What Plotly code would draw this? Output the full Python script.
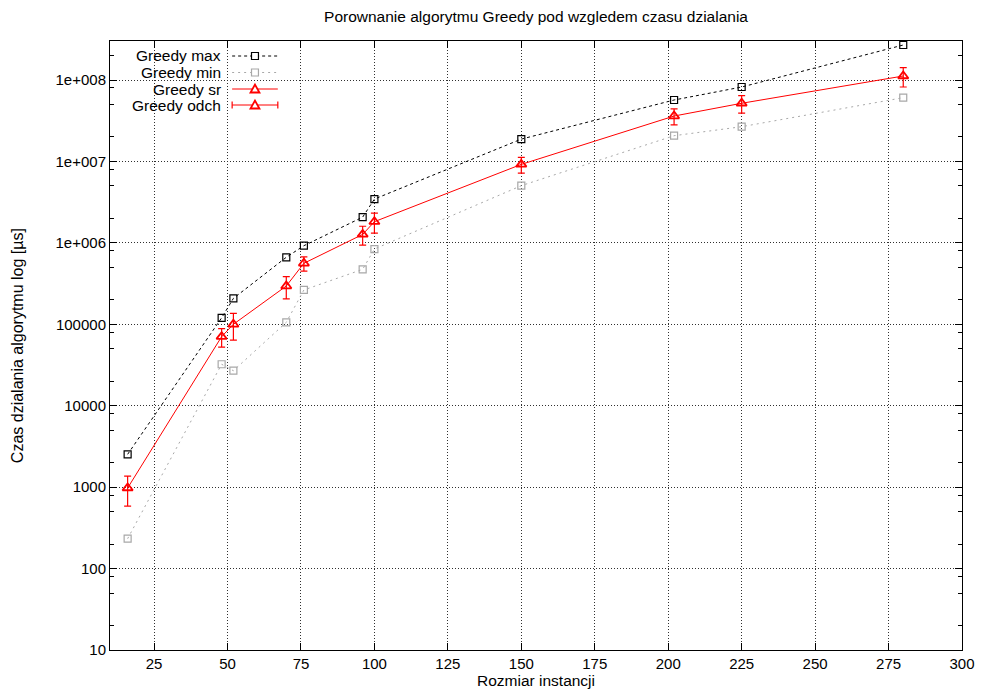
import plotly.graph_objects as go

# ---------------- data ----------------
sizes = [16, 48, 52, 70, 76, 96, 100, 150, 202, 225, 280]
greedy_max = [2530, 120000, 208000, 665000, 923000, 2.07e6, 3.45e6, 1.88e7, 5.68e7, 8.2e7, 2.69e8]
greedy_min = [233, 32300, 26900, 105700, 264000, 473000, 840000, 5.04e6, 2.07e7, 2.67e7, 6.07e7]
greedy_sr = [976, 70500, 100000, 295000, 561000, 1.27e6, 1.82e6, 9.2e6, 3.61e7, 5.18e7, 1.12e8]
greedy_odch = [390, 18000, 36000, 90000, 112000, 330000, 500000, 2.0e6, 8.0e6, 1.25e7, 3.0e7]

x_ticks = [25, 50, 75, 100, 125, 150, 175, 200, 225, 250, 275, 300]
y_ticks = [10, 100, 1000, 10000, 100000, 1e6, 1e7, 1e8]
y_ticktext = ["10", "100", "1000", "10000", "100000", "1e+006", "1e+007", "1e+008"]

legend_names = ["Greedy max", "Greedy min", "Greedy sr", "Greedy odch"]

# ---------------- style ----------------
FONT = "Liberation Sans, Arial, sans-serif"
FS = 15
FS_T = 15.5
W, H = 987, 691
L, R, T, B = 110, 19, 41, 41
PW, PH = W - L - R, H - T - B
BLACK = "#000000"
GRAY = "#a8a8a8"
RED = "#ff0000"

minor_vals = []
for e in range(1, 9):
    for m in (2, 5, 8):
        minor_vals.append(m * 10 ** e)

fig = go.Figure()

fig.add_trace(go.Scatter(
    x=sizes, y=greedy_max, mode="lines+markers", name=legend_names[0],
    line=dict(color=BLACK, width=1, dash="3px,3px"),
    marker=dict(symbol="square-open", size=7, color=BLACK, line=dict(width=1.2)),
    showlegend=False))
fig.add_trace(go.Scatter(
    x=sizes, y=greedy_min, mode="lines+markers", name=legend_names[1],
    line=dict(color=GRAY, width=1, dash="2px,4px"),
    marker=dict(symbol="square-open", size=7, color=GRAY, line=dict(width=1.2)),
    showlegend=False))
fig.add_trace(go.Scatter(
    x=sizes, y=greedy_sr, mode="lines+markers", name=legend_names[2],
    line=dict(color=RED, width=1),
    marker=dict(symbol="triangle-up-open", size=9, color=RED, line=dict(width=1.8)),
    error_y=dict(type="data", array=greedy_odch, symmetric=True, color=RED,
                 thickness=1.2, width=3.5),
    showlegend=False))

# ---------------- custom gnuplot-style key (layout decorations) ----------------
def px_x(px):
    return (px - L) / PW

def px_y(py):
    return (H - B - py) / PH

shapes = []
annotations = []

# opaque key box hiding the grid behind it
shapes.append(dict(type="rect", xref="paper", yref="paper", layer="between",
                   x0=px_x(111), x1=px_x(287), y0=px_y(113), y1=px_y(42),
                   fillcolor="white", line=dict(width=0)))

key_rows = [56, 72.5, 89, 105]
key_x0, key_x1, key_xc, text_right = 233, 279, 256, 224
key_styles = [
    dict(color=BLACK, dash="3px,3px", sym="square"),
    dict(color=GRAY, dash="2px,4px", sym="square"),
    dict(color=RED, dash="solid", sym="triangle"),
    dict(color=RED, dash="solid", sym="triangle", caps=True),
]
for name, ry, st in zip(legend_names, key_rows, key_styles):
    annotations.append(dict(text=name, xref="paper", yref="paper",
                            x=px_x(text_right), y=px_y(ry), xanchor="right",
                            yanchor="middle", showarrow=False,
                            font=dict(family=FONT, size=FS_T, color="black")))
    shapes.append(dict(type="line", xref="paper", yref="paper", layer="above",
                       x0=px_x(key_x0), x1=px_x(key_x1), y0=px_y(ry), y1=px_y(ry),
                       line=dict(color=st["color"], width=1, dash=st["dash"])))
    if st["sym"] == "square":
        shapes.append(dict(type="rect", xref="paper", yref="paper", layer="above",
                           x0=px_x(key_xc - 3.5), x1=px_x(key_xc + 3.5),
                           y0=px_y(ry + 3.5), y1=px_y(ry - 3.5),
                           fillcolor="white", line=dict(color=st["color"], width=1.2)))
    else:
        xa, xb, xc = px_x(key_xc - 4.5), px_x(key_xc + 4.5), px_x(key_xc)
        ya, yb = px_y(ry + 3.5), px_y(ry - 4.5)
        shapes.append(dict(type="path", xref="paper", yref="paper", layer="above",
                           path=f"M {xa} {ya} L {xb} {ya} L {xc} {yb} Z",
                           fillcolor="white", line=dict(color=st["color"], width=1.8)))
    if st.get("caps"):
        for cx in (key_x0, key_x1):
            shapes.append(dict(type="line", xref="paper", yref="paper", layer="above",
                               x0=px_x(cx), x1=px_x(cx), y0=px_y(ry - 3.5), y1=px_y(ry + 3.5),
                               line=dict(color=st["color"], width=1.2)))

# axis titles
annotations.append(dict(text="Rozmiar instancji", xref="paper", yref="paper",
                        x=0.5, y=px_y(680), xanchor="center", yanchor="middle",
                        showarrow=False, font=dict(family=FONT, size=FS_T, color="black")))
annotations.append(dict(text="Czas dzialania algorytmu log [µs]", xref="paper", yref="paper",
                        x=px_x(17), y=0.5, xanchor="center", yanchor="middle", textangle=-90,
                        showarrow=False, font=dict(family=FONT, size=FS_T + 0.5, color="black")))

axis_common = dict(
    showline=True, linecolor="black", linewidth=1, mirror="allticks",
    ticks="inside", ticklen=7, tickcolor="black", tickwidth=1,
    showgrid=True, gridcolor="#303030", gridwidth=1, griddash="1px,2px",
    zeroline=False, tickfont=dict(family=FONT, size=FS, color="black"),
)

fig.update_layout(
    width=W, height=H,
    margin=dict(l=L, r=R, t=T, b=B),
    paper_bgcolor="white", plot_bgcolor="white",
    title=dict(text="Porownanie algorytmu Greedy pod wzgledem czasu dzialania",
               x=0.5, xref="paper", xanchor="center",
               y=1 - 17 / H, yanchor="middle",
               font=dict(family=FONT, size=FS_T, color="black")),
    xaxis=dict(range=[10, 300], tickmode="array", tickvals=x_ticks, **axis_common),
    yaxis=dict(type="log", range=[1, 8.479], tickmode="array", tickvals=y_ticks,
               ticktext=y_ticktext,
               minor=dict(tickmode="array", tickvals=minor_vals, ticks="inside",
                          ticklen=4, tickcolor="black", showgrid=False),
               **axis_common),
    shapes=shapes, annotations=annotations,
    showlegend=False,
)

fig.write_html("out.html")
